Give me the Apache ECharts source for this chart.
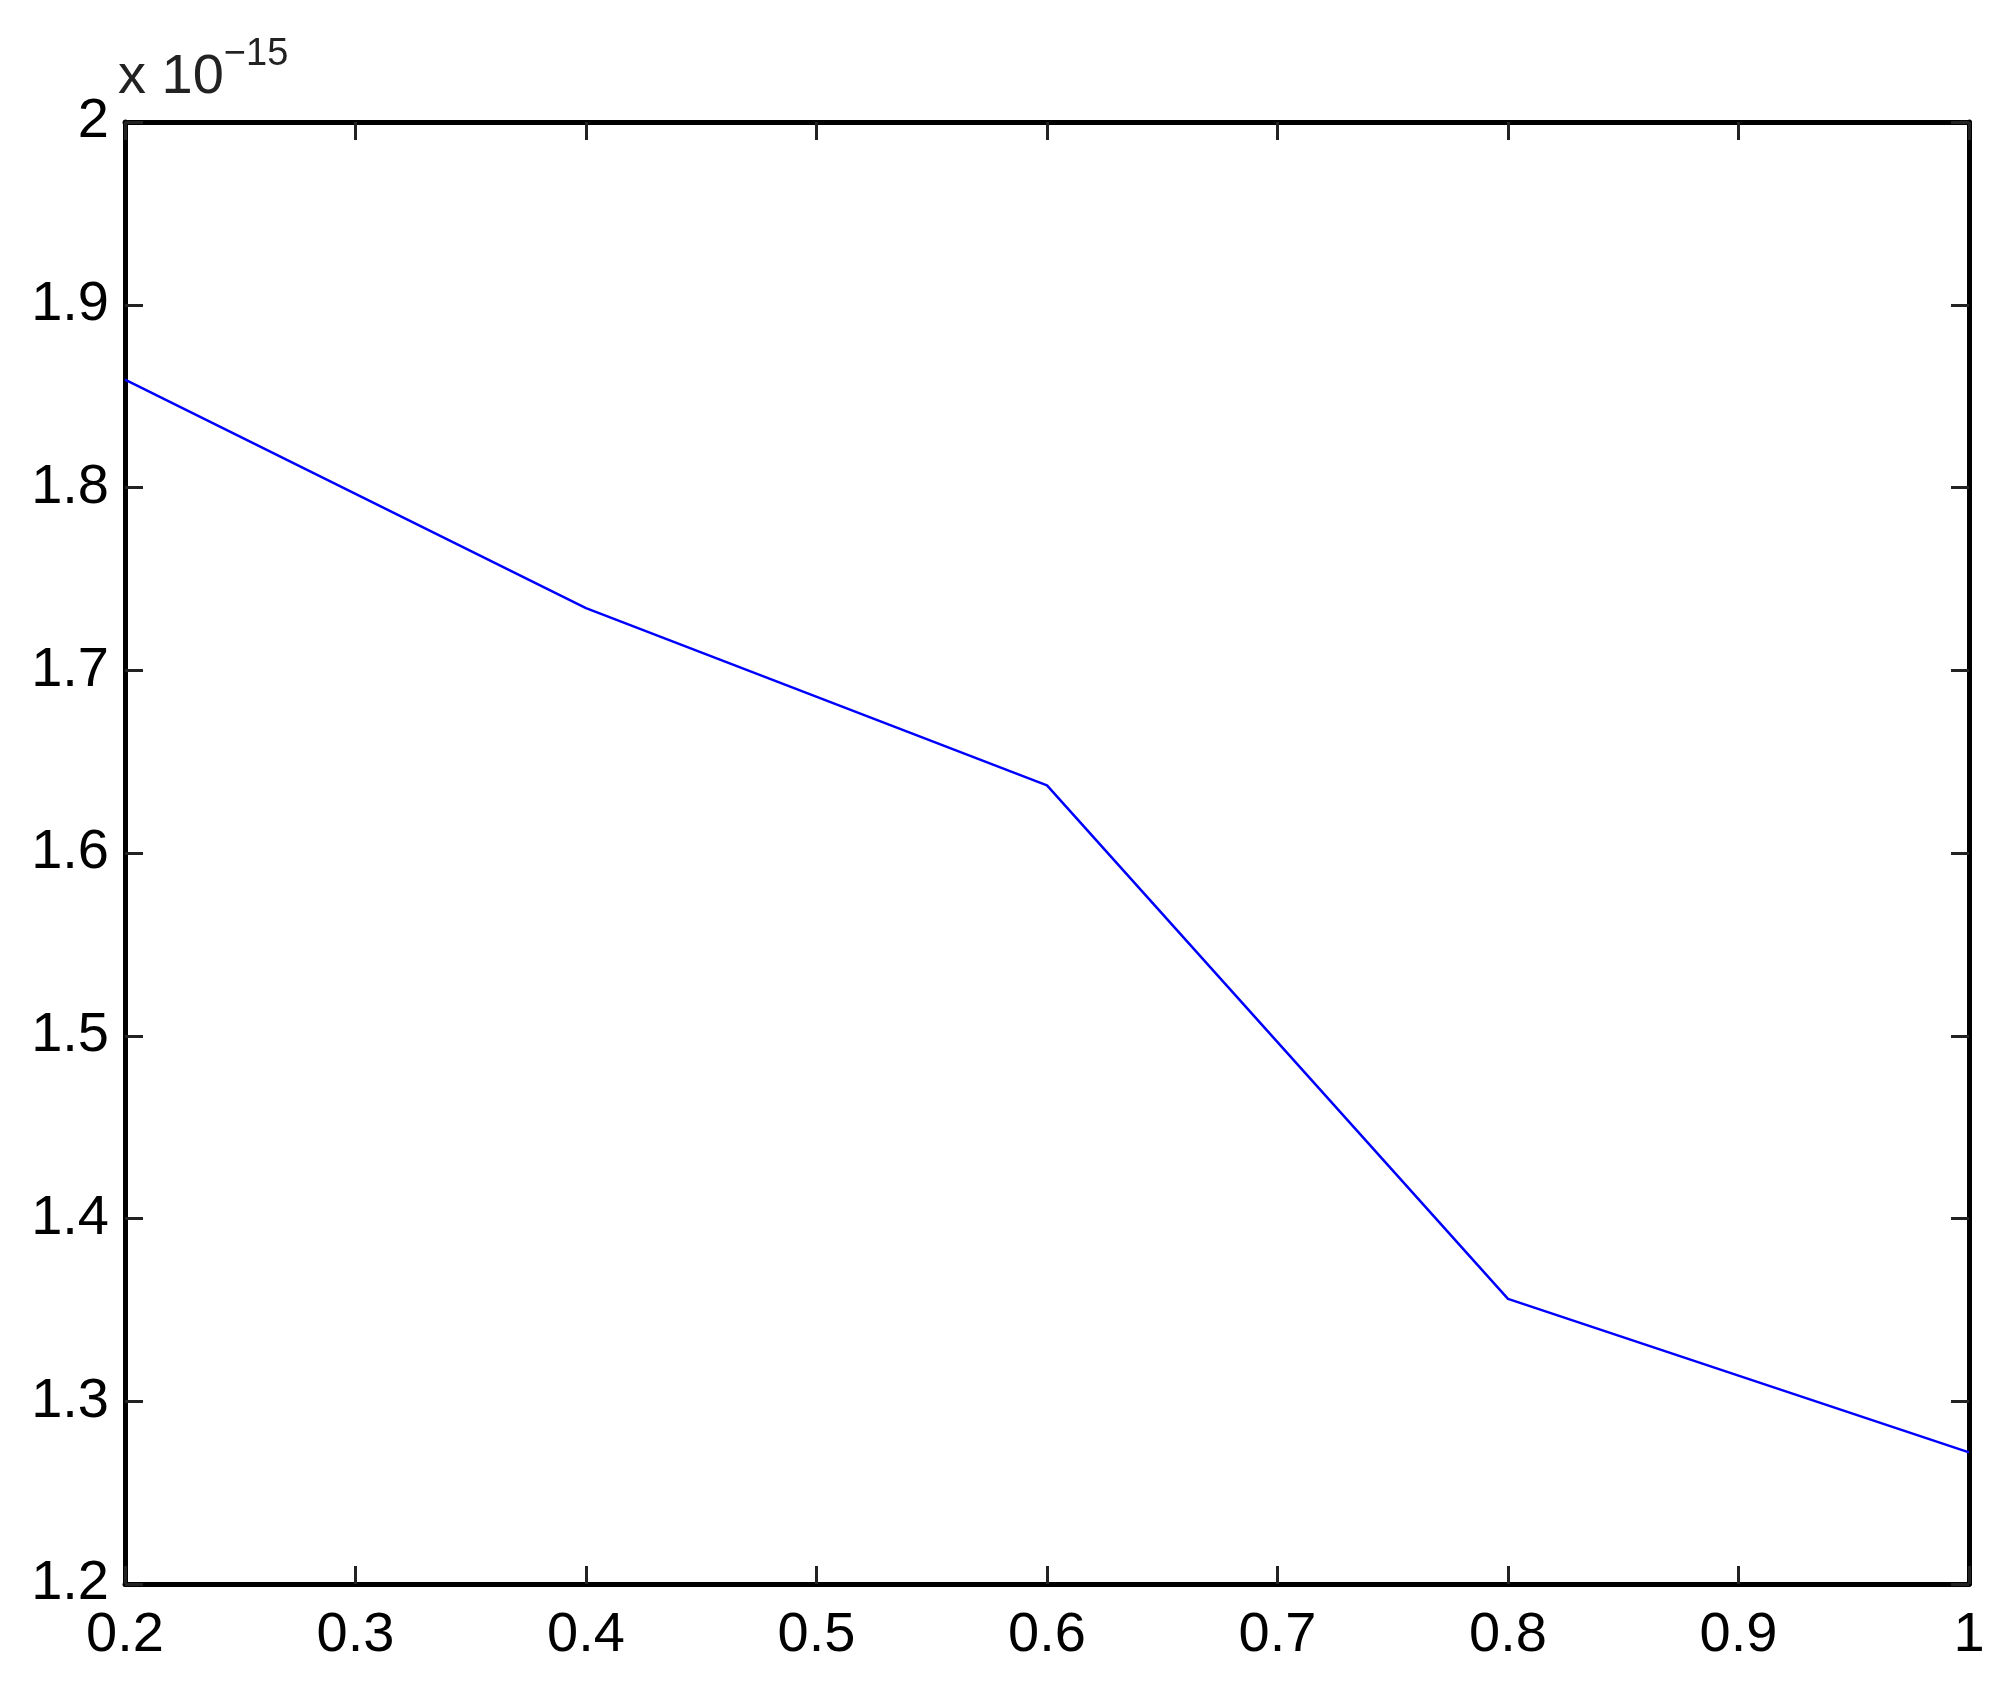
<!DOCTYPE html>
<html>
<head>
<meta charset="utf-8">
<script src="https://cdn.jsdelivr.net/npm/echarts@6/dist/echarts.min.js"></script>
<style>
  html, body { margin: 0; padding: 0; background: #fff; }
  #chart { width: 2002px; height: 1691px; }
</style>
</head>
<body>
<div id="chart"></div>
<script>
// x positions and values (values in units of 1e-15)
const xValues = [0.2, 0.4, 0.6, 0.8, 1.0]
const yValues = [1.859, 1.734, 1.637, 1.356, 1.272]

const xTicks = { min: 0.2, max: 1, interval: 0.1 }
const yTicks = { min: 1.2, max: 2, interval: 0.1 }

const labelFont = { fontFamily: 'Liberation Sans, Arial, sans-serif', fontSize: 56, color: '#000' }

const chart = echarts.init(document.getElementById('chart'))

const axisCommon = {
  type: 'value',
  splitLine: { show: false },
  axisLine: { show: true, lineStyle: { color: '#000', width: 5 } },
  axisTick: { show: true, inside: true, length: 18, lineStyle: { color: '#222', width: 3 } }
}

chart.setOption({
  animation: false,
  backgroundColor: '#fff',
  grid: { left: 125, right: 33, top: 122, bottom: 107 },
  xAxis: [
    { ...axisCommon, ...xTicks, position: 'bottom',
      axisLabel: { ...labelFont, margin: 24 } },
    { ...axisCommon, ...xTicks, position: 'top', axisLabel: { show: false } }
  ],
  yAxis: [
    { ...axisCommon, ...yTicks, position: 'left',
      axisLabel: { ...labelFont, margin: 16 } },
    { ...axisCommon, ...yTicks, position: 'right', axisLabel: { show: false } }
  ],
  graphic: [
    {
      type: 'text', left: 118, top: 36,
      style: {
        text: 'x 10{sup|\u221215}',
        font: '56px Liberation Sans, Arial, sans-serif',
        fill: '#222',
        rich: {
          sup: { fontSize: 38, fontFamily: 'Liberation Sans, Arial, sans-serif', verticalAlign: 'top', padding: [0, 0, 46, 0] }
        }
      }
    }
  ],
  series: [{
    type: 'line',
    data: xValues.map((x, i) => [x, yValues[i]]),
    showSymbol: false,
    lineStyle: { color: '#0000ff', width: 2.5 },
    itemStyle: { color: '#0000ff' }
  }]
})
</script>
</body>
</html>
